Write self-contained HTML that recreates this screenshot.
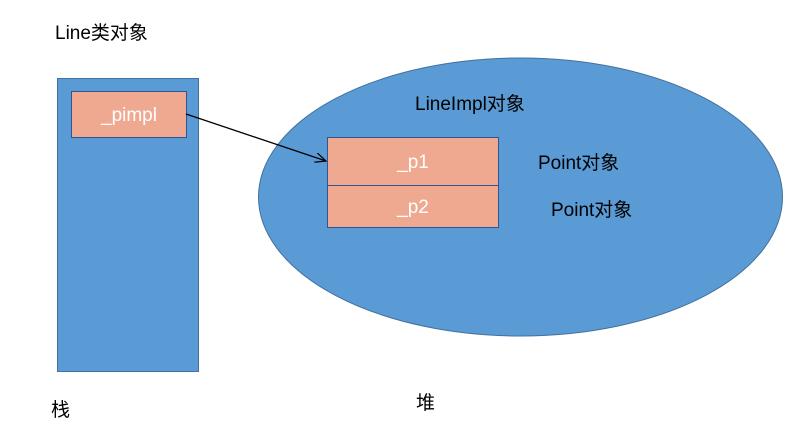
<!DOCTYPE html>
<html><head><meta charset="utf-8"><style>
body{margin:0;background:#fff;}
text{font-family:"Liberation Sans","Noto Sans CJK SC",sans-serif;}
</style></head><body>
<svg width="804" height="442" viewBox="0 0 804 442" xmlns="http://www.w3.org/2000/svg">
<defs><marker id="a" markerWidth="12" markerHeight="10" refX="11" refY="5" orient="auto" markerUnits="userSpaceOnUse"><path d="M0,0 L11,5 L0,10" fill="none" stroke="#000" stroke-width="1.2"/></marker></defs>
<text x="55" y="39" font-size="19" fill="#000">Line类对象</text>
<rect x="57.5" y="78.5" width="141" height="293" fill="#5B9BD5" stroke="#41719C"/>
<rect x="71.5" y="91.5" width="115" height="46" fill="#F0A991" stroke="#2F5597"/>
<text x="129" y="121" font-size="19" fill="#fff" text-anchor="middle">_pimpl</text>
<ellipse cx="520.5" cy="197" rx="262" ry="139" fill="#5B9BD5" stroke="#41719C"/>
<text x="415" y="110" font-size="19" fill="#000">LineImpl对象</text>
<rect x="327.5" y="137.5" width="171" height="48" fill="#F0A991" stroke="#2F5597"/>
<rect x="327.5" y="185.5" width="171" height="42" fill="#F0A991" stroke="#2F5597"/>
<text x="413" y="168" font-size="19" fill="#fff" text-anchor="middle">_p1</text>
<text x="413" y="213" font-size="19" fill="#fff" text-anchor="middle">_p2</text>
<text x="538" y="169" font-size="19" fill="#000">Point对象</text>
<text x="551" y="216" font-size="19" fill="#000">Point对象</text>
<line x1="186" y1="114" x2="326" y2="161" stroke="#000" stroke-width="1.3" marker-end="url(#a)"/>
<text x="51" y="416" font-size="19" fill="#000">栈</text>
<text x="416" y="409" font-size="19" fill="#000">堆</text>
</svg>
</body></html>
